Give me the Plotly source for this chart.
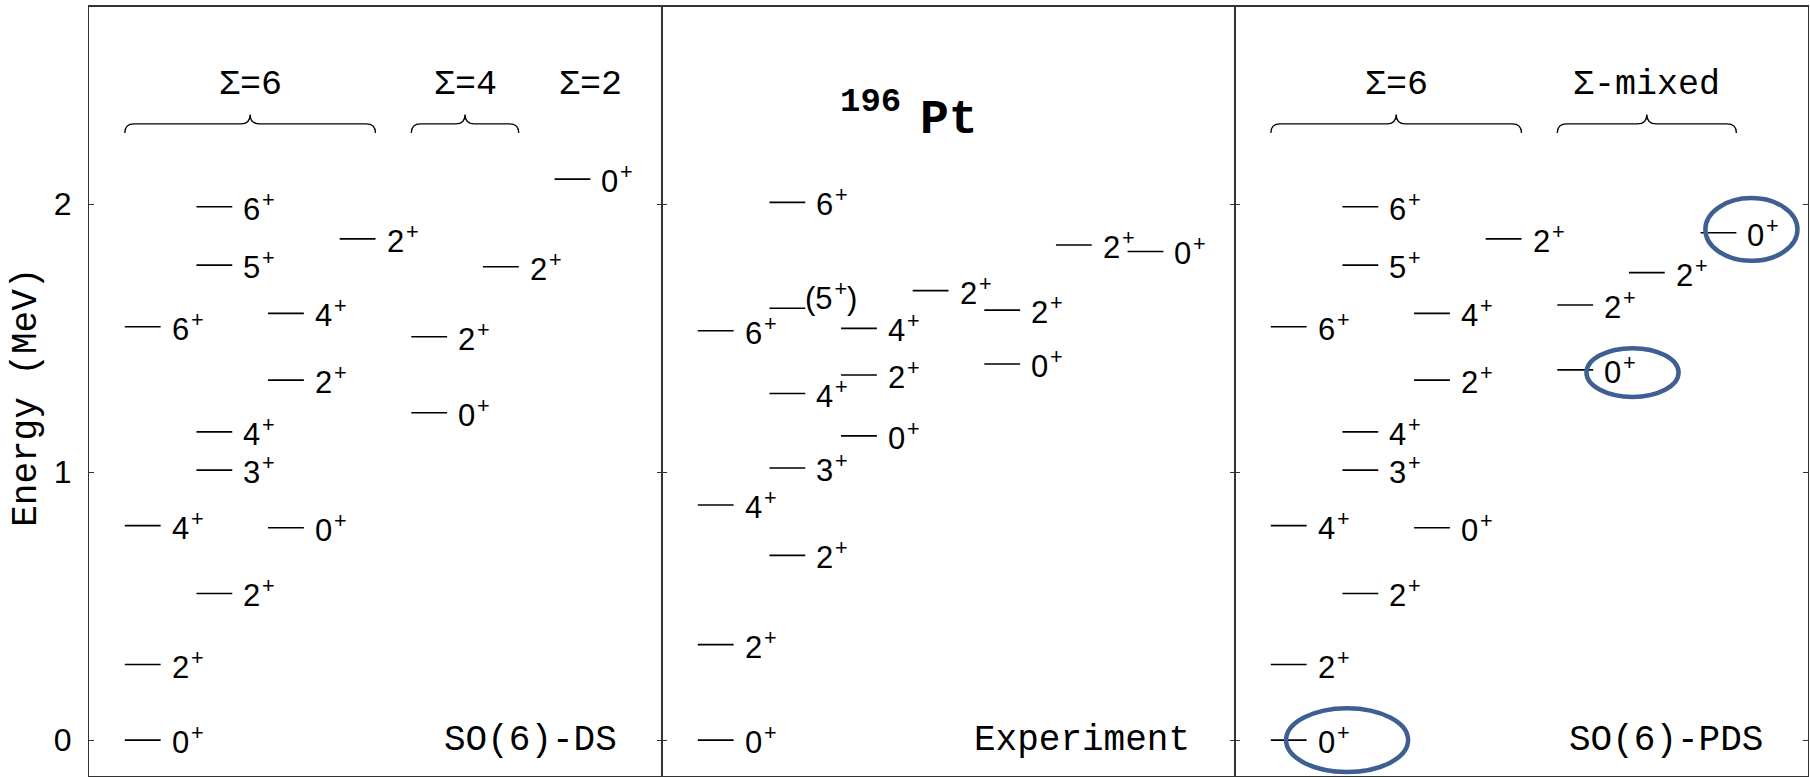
import plotly.graph_objects as go

# ---- level schemes: column, energy (MeV), spin-parity ----
ds_col = [1, 1, 1, 1, 2, 2, 2, 2, 2, 3, 3, 3, 4, 5, 5, 6, 7]
ds_energy = [0.000, 0.282, 0.800, 1.542,
             0.547, 1.007, 1.150, 1.772, 1.990,
             0.792, 1.343, 1.592,
             1.870,
             1.221, 1.505,
             1.766,
             2.093]
ds_spin = ["0+", "2+", "4+", "6+", "2+", "3+", "4+", "5+", "6+",
           "0+", "2+", "4+", "2+", "0+", "2+", "2+", "0+"]

exp_col = [1, 1, 1, 1, 2, 2, 2, 2, 2, 3, 3, 3, 4, 5, 5, 6, 7]
exp_energy = [0.000, 0.356, 0.877, 1.527,
              0.689, 1.015, 1.293, 1.611, 2.006,
              1.135, 1.362, 1.536,
              1.677,
              1.403, 1.604,
              1.847,
              1.823]
exp_spin = ["0+", "2+", "4+", "6+", "2+", "3+", "4+", "(5+)", "6+",
            "0+", "2+", "4+", "2+", "0+", "2+", "2+", "0+"]

pds_col = [1, 1, 1, 1, 2, 2, 2, 2, 2, 3, 3, 3, 4, 5, 5, 6, 7]
pds_energy = [0.000, 0.282, 0.800, 1.542,
              0.547, 1.007, 1.150, 1.772, 1.990,
              0.792, 1.343, 1.592,
              1.870,
              1.381, 1.623,
              1.744,
              1.893]
pds_spin = ["0+", "2+", "4+", "6+", "2+", "3+", "4+", "5+", "6+",
            "0+", "2+", "4+", "2+", "0+", "2+", "2+", "0+"]

# Sigma groupings: label, first column, last column
ds_groups = [("Σ=6", 1, 4), ("Σ=4", 5, 6), ("Σ=2", 7, 7)]
pds_groups = [("Σ=6", 1, 4), ("Σ-mixed", 5, 7)]

# levels singled out in the PDS scheme (indices into pds lists)
pds_circled = [0, 13, 16]

panel_names = ["SO(6)-DS", "Experiment", "SO(6)-PDS"]
y_ticks = [0, 1, 2]

# ---- styling ----
FRAME = "#333333"
SANS = "Liberation Sans, Arial, sans-serif"
MONO = "Liberation Mono, Courier New, monospace"
Y_RANGE = [-0.134, 2.735]
X_RANGE = [0, 8]
BLUE = "#3d5f92"

panels = [
    dict(col=ds_col, e=ds_energy, spin=ds_spin, groups=ds_groups),
    dict(col=exp_col, e=exp_energy, spin=exp_spin, groups=[]),
    dict(col=pds_col, e=pds_energy, spin=pds_spin, groups=pds_groups),
]

fig = go.Figure()
shapes = []
annotations = []

for i, p in enumerate(panels):
    sfx = "" if i == 0 else str(i + 1)
    xa, ya = "x" + sfx, "y" + sfx

    # level bars
    xs, ys = [], []
    for c, e in zip(p["col"], p["e"]):
        xs += [c - 0.5, c, None]
        ys += [e, e, None]
    fig.add_trace(go.Scatter(x=xs, y=ys, mode="lines",
                             line=dict(color="black", width=1.6),
                             xaxis=xa, yaxis=ya, showlegend=False,
                             hoverinfo="skip"))

    # spin-parity labels
    for c, e, s in zip(p["col"], p["e"], p["spin"]):
        tentative = s.startswith("(")
        annotations.append(dict(
            x=c, y=e, xref=xa, yref=ya, showarrow=False,
            text=s.replace("+", "<sup>\u200a+</sup>"),
            xanchor="left", yanchor="middle",
            xshift=-2 if tentative else 9,
            yshift=12 if tentative else 0,
            font=dict(family=SANS, size=31, color="black")))

    # group braces and labels
    for label, c0, c1 in p["groups"]:
        if c1 > c0:
            x0, x1 = c0 - 0.5, c1
            xm = (x0 + x1) / 2
            y_end, y_line, y_tip = 2.265, 2.299, 2.334
            r = 0.13
            path = (f"M {x0},{y_end} Q {x0},{y_line} {x0 + r},{y_line} "
                    f"L {xm - r},{y_line} Q {xm},{y_line} {xm},{y_tip} "
                    f"Q {xm},{y_line} {xm + r},{y_line} "
                    f"L {x1 - r},{y_line} Q {x1},{y_line} {x1},{y_end}")
            shapes.append(dict(type="path", path=path, xref=xa, yref=ya,
                               line=dict(color="black", width=1.3)))
            lx = xm
        else:
            lx = c0
        annotations.append(dict(
            x=lx, y=2.444, xref=xa, yref=ya, showarrow=False, text=label,
            xanchor="center", yanchor="middle",
            font=dict(family=MONO, size=35, color="black")))

    # scheme name
    annotations.append(dict(
        x=7.4, y=0, xref=xa, yref=ya, showarrow=False, text=panel_names[i],
        xanchor="right", yanchor="middle",
        font=dict(family=MONO, size=36, color="black")))

# highlighted PDS levels: (x offset of centre, y offset, half width, half height)
ellipse_geom = [(0.565, 0.0, 0.852, 0.119),
                (0.55, -0.01, 0.643, 0.091),
                (0.21, 0.012, 0.643, 0.117)]
for idx, (dx, dy, hw, hh) in zip(pds_circled, ellipse_geom):
    cx = pds_col[idx] + dx
    cy = pds_energy[idx] + dy
    shapes.append(dict(type="circle", xref="x3", yref="y3",
                       x0=cx - hw, x1=cx + hw, y0=cy - hh, y1=cy + hh,
                       line=dict(color=BLUE, width=4.5)))

# nucleus label
annotations.append(dict(x=2.914, y=2.381, xref="x2", yref="y2", showarrow=False,
                        text="<b>196</b>", xanchor="center", yanchor="middle",
                        font=dict(family=MONO, size=34, color="black")))
annotations.append(dict(x=4.0, y=2.313, xref="x2", yref="y2", showarrow=False,
                        text="<b>Pt</b>", xanchor="center", yanchor="middle",
                        font=dict(family=MONO, size=48, color="black")))

# vertical axis title
annotations.append(dict(x=-0.0361, y=0.493, xref="paper", yref="paper",
                        showarrow=False, text="Energy (MeV)", textangle=-90,
                        xanchor="center", yanchor="middle",
                        font=dict(family=MONO, size=36, color="black")))

layout = dict(width=1810, height=777,
              margin=dict(l=89, r=2, t=7, b=1),
              paper_bgcolor="white", plot_bgcolor="white",
              showlegend=False, shapes=shapes, annotations=annotations)

for i in range(3):
    sfx = "" if i == 0 else str(i + 1)
    layout["xaxis" + sfx] = dict(
        domain=[i / 3, (i + 1) / 3], range=X_RANGE, anchor="y" + sfx,
        showgrid=False, zeroline=False, showticklabels=False, ticks="",
        showline=True, mirror=True, linecolor=FRAME, linewidth=1.5,
        fixedrange=True)
    layout["yaxis" + sfx] = dict(
        range=Y_RANGE, anchor="x" + sfx, tickvals=y_ticks,
        ticks="inside", ticklen=5, tickwidth=1.2, tickcolor=FRAME,
        showline=True, mirror="ticks", linecolor=FRAME, linewidth=1,
        showgrid=False, zeroline=False, showticklabels=(i == 0),
        ticklabelstandoff=10,
        tickfont=dict(family=SANS, size=32, color="black"),
        fixedrange=True)

fig.update_layout(**layout)
fig.write_html("out.html")
